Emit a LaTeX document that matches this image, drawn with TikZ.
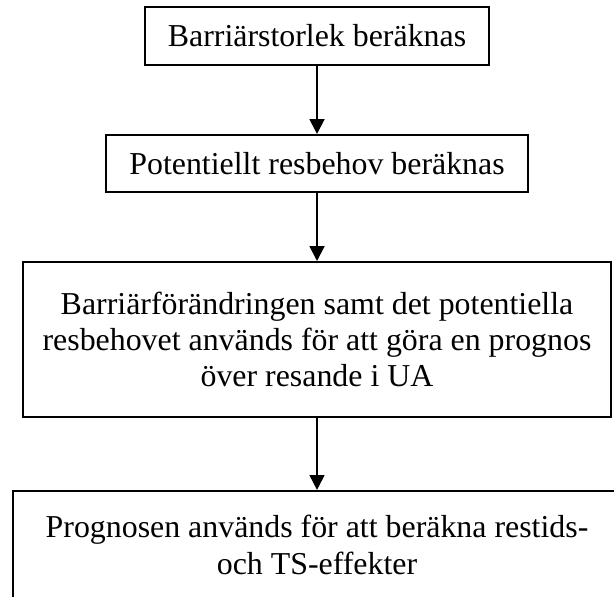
\documentclass[tikz,border=0pt]{standalone}
\usepackage{fontspec}
\setmainfont{Liberation Serif}
\usetikzlibrary{arrows.meta, positioning}

\begin{document}
\begin{tikzpicture}[
    stage/.style={draw, rectangle, line width=0.75pt, inner sep=0pt, align=center, font=\fontsize{12}{13.6}\selectfont},
    stagetext/.style={align=center, inner sep=0pt, font=\fontsize{12}{13.6}\selectfont},
    arrow/.style={-{Triangle[length=5.6pt, width=5.6pt]}, line width=0.75pt}
]
    \useasboundingbox (0,0) rectangle (8.123,-7.898);
    \clip (0,0) rectangle (8.123,-7.898);

    % Boxes
    \node[stage, minimum width=4.551cm, minimum height=0.767cm] (size) at (4.194,-0.476) {Barriärstorlek beräknas};
    \node[stage, minimum width=5.583cm, minimum height=0.754cm, below=0.9cm of size] (demand) {Potentiellt resbehov beräknas};
    \node[stage, minimum width=7.779cm, minimum height=2.050cm, below=0.9cm of demand] (forecast) {Barriärförändringen samt det potentiella\\resbehovet används för att göra en prognos\\över resande i UA};
    \node[stage, minimum width=8.043cm, minimum height=3cm, below=0.952cm of forecast] (effects) {};
    \node[stagetext] (effectstext) at ([yshift=-0.728cm]effects.north) {Prognosen används för att beräkna restids-\\och TS-effekter};

    % Arrows
    \draw[arrow] (size) -- (demand);
    \draw[arrow] (demand) -- (forecast);
    \draw[arrow] (forecast) -- (effects);

\end{tikzpicture}
\end{document}
